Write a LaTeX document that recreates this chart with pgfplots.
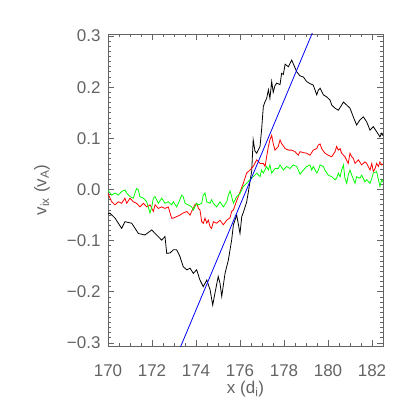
\documentclass[border=0pt]{standalone}
\usepackage{fontspec}
\setmainfont{Liberation Sans}
\usepackage{pgfplots}
\pgfplotsset{compat=1.18}
\definecolor{axgray}{RGB}{100,100,100}
\begin{document}
\begin{tikzpicture}
\begin{axis}[
    width=275pt, height=312pt, scale only axis,
    xmin=170, xmax=182.5,
    ymin=-0.306, ymax=0.304,
    xtick={170,172,174,176,178,180,182},
    xticklabels={170,172,174,176,178,180,182},
    ytick={-0.3,-0.2,-0.1,0,0.1,0.2,0.3},
    yticklabels={−0.3,−0.2,−0.1,0.0,0.1,0.2,0.3},
    minor x tick num=3,
    minor y tick num=9,
    major tick length=6pt,
    minor tick length=3pt,
    axis line style={axgray, line width=0.9pt},
    every tick/.style={axgray, line width=0.7pt},
    tick label style={font=\fontsize{17}{20}\selectfont, text=axgray},
    xticklabel style={yshift=-15pt},
    yticklabel style={xshift=-4pt},
    label style={font=\fontsize{17}{20}\selectfont, text=axgray},
    xlabel={x (d\textsubscript{i})},
    ylabel={v\textsubscript{ix} (v\textsubscript{A})},
    xlabel style={at={(axis description cs:0.5,0)}, anchor=center, yshift=-43pt},
    ylabel style={at={(axis description cs:0,0.5)}, anchor=center, yshift=66pt},
    clip=true,
]
% black
\addplot[black, line width=0.8pt] table {
170.00 -0.048
170.08 -0.046
170.32 -0.056
170.62 -0.076
170.77 -0.063
171.08 -0.066
171.38 -0.086
171.68 -0.089
171.99 -0.079
172.14 -0.086
172.44 -0.099
172.59 -0.092
172.67 -0.125
172.82 -0.124
172.97 -0.118
173.12 -0.118
173.27 -0.131
173.42 -0.151
173.58 -0.157
173.73 -0.154
173.88 -0.164
174.03 -0.157
174.18 -0.177
174.33 -0.190
174.49 -0.177
174.64 -0.196
174.76 -0.226
174.86 -0.203
175.01 -0.170
175.09 -0.183
175.17 -0.209
175.32 -0.164
175.47 -0.138
175.62 -0.099
175.70 -0.069
175.85 -0.050
176.00 -0.086
176.08 -0.053
176.15 -0.045
176.30 -0.025
176.38 -0.005
176.45 0.015
176.53 0.035
176.60 0.097
176.68 0.075
176.76 0.071
176.91 0.084
176.98 0.116
177.06 0.162
177.14 0.172
177.21 0.178
177.29 0.195
177.36 0.178
177.44 0.211
177.51 0.190
177.59 0.203
177.67 0.208
177.82 0.205
177.89 0.227
177.97 0.225
178.05 0.245
178.20 0.240
178.35 0.253
178.42 0.246
178.50 0.238
178.58 0.230
178.73 0.222
178.88 0.220
179.03 0.211
179.18 0.207
179.33 0.204
179.49 0.185
179.56 0.194
179.64 0.198
179.79 0.185
179.94 0.181
180.09 0.175
180.17 0.165
180.32 0.159
180.47 0.155
180.62 0.165
180.70 0.171
180.85 0.165
181.00 0.159
181.15 0.142
181.30 0.126
181.45 0.136
181.61 0.142
181.76 0.132
181.91 0.116
182.06 0.123
182.21 0.113
182.36 0.103
182.44 0.110
182.50 0.105
};
% red
\addplot[red, line width=0.8pt] table {
170.00 -0.008
170.17 -0.024
170.32 -0.030
170.47 -0.024
170.62 -0.027
170.77 -0.017
170.85 -0.027
171.00 -0.017
171.15 -0.024
171.30 -0.027
171.45 -0.034
171.61 -0.027
171.76 -0.034
171.91 -0.030
172.06 -0.043
172.14 -0.030
172.29 -0.037
172.44 -0.034
172.59 -0.037
172.74 -0.034
172.89 -0.056
172.97 -0.056
173.12 -0.053
173.27 -0.050
173.42 -0.046
173.58 -0.043
173.73 -0.050
173.80 -0.043
173.95 -0.030
174.03 -0.027
174.11 -0.037
174.18 -0.040
174.26 -0.063
174.33 -0.066
174.41 -0.056
174.49 -0.066
174.56 -0.060
174.64 -0.073
174.71 -0.076
174.79 -0.063
174.94 -0.066
175.09 -0.060
175.24 -0.069
175.40 -0.060
175.55 -0.055
175.62 -0.043
175.70 -0.040
175.85 -0.022
176.00 -0.005
176.15 0.012
176.30 0.032
176.45 0.038
176.60 0.045
176.76 0.058
176.91 0.051
177.06 0.051
177.14 0.045
177.21 0.064
177.29 0.084
177.36 0.097
177.44 0.106
177.51 0.090
177.59 0.077
177.74 0.084
177.82 0.097
177.89 0.090
178.05 0.080
178.20 0.077
178.35 0.077
178.50 0.074
178.65 0.067
178.73 0.074
178.88 0.072
179.03 0.071
179.18 0.067
179.33 0.077
179.49 0.080
179.56 0.087
179.64 0.089
179.71 0.080
179.86 0.071
180.01 0.067
180.17 0.064
180.32 0.074
180.39 0.084
180.47 0.077
180.55 0.080
180.62 0.071
180.77 0.064
180.92 0.051
181.00 0.071
181.08 0.064
181.15 0.061
181.23 0.051
181.38 0.058
181.53 0.048
181.68 0.054
181.76 0.051
181.91 0.038
181.99 0.051
182.06 0.035
182.14 0.041
182.21 0.051
182.29 0.045
182.36 0.054
182.44 0.048
182.50 0.050
};
% green
\addplot[green, line width=0.8pt] table {
170.00 -0.002
170.17 -0.011
170.32 -0.007
170.47 -0.011
170.62 -0.004
170.77 -0.001
170.85 -0.007
171.00 -0.014
171.15 -0.017
171.30 0.002
171.38 -0.001
171.45 -0.014
171.61 -0.017
171.76 -0.024
171.91 -0.046
171.99 -0.034
172.06 -0.017
172.14 -0.014
172.29 -0.027
172.44 -0.017
172.59 -0.027
172.74 -0.024
172.89 -0.030
172.97 -0.024
173.12 -0.034
173.27 -0.020
173.35 -0.011
173.42 -0.014
173.50 -0.027
173.65 -0.030
173.80 -0.034
173.88 -0.040
174.03 -0.027
174.11 -0.030
174.26 -0.027
174.33 -0.011
174.41 -0.007
174.49 -0.024
174.64 -0.027
174.71 -0.020
174.79 -0.027
174.94 -0.034
175.09 -0.024
175.24 -0.034
175.40 -0.024
175.47 -0.011
175.55 -0.003
175.62 -0.014
175.70 -0.027
175.85 -0.014
176.00 -0.008
176.15 0.006
176.30 0.012
176.45 0.019
176.60 0.025
176.76 0.032
176.91 0.025
176.98 0.038
177.06 0.032
177.21 0.045
177.29 0.038
177.36 0.048
177.44 0.032
177.59 0.041
177.74 0.041
177.82 0.048
177.97 0.038
178.12 0.045
178.27 0.041
178.42 0.048
178.58 0.045
178.73 0.030
178.88 0.038
179.03 0.045
179.18 0.048
179.26 0.038
179.33 0.045
179.49 0.032
179.56 0.038
179.64 0.048
179.79 0.045
179.86 0.038
180.01 0.028
180.17 0.025
180.32 0.019
180.39 0.022
180.47 0.032
180.55 0.025
180.62 0.038
180.70 0.048
180.77 0.022
180.85 0.012
180.92 0.028
181.00 0.038
181.08 0.028
181.23 0.012
181.30 0.025
181.45 0.022
181.53 0.028
181.68 0.015
181.76 0.019
181.91 0.012
181.99 0.022
182.06 0.032
182.21 0.035
182.36 0.006
182.44 0.019
182.50 0.015
};
% blue fit line
\addplot[blue, line width=0.8pt] coordinates {(173.00,-0.338) (179.60,0.338)};
\end{axis}
\path ([xshift=-108pt,yshift=-69pt]current axis.south west) rectangle ([xshift=32pt,yshift=34pt]current axis.north east);
\end{tikzpicture}
\end{document}
